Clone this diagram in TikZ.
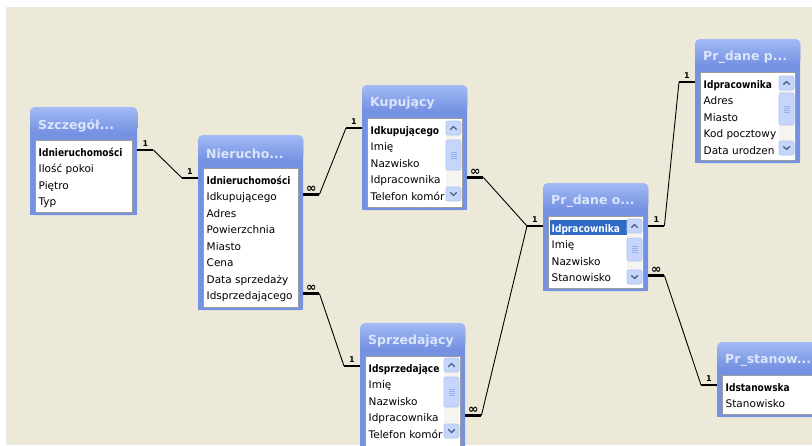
\documentclass[tikz,border=0pt]{standalone}
\usepackage{fontspec}
\setmainfont{DejaVu Sans}
\newfontfamily\rowcond[FakeStretch=0.86]{DejaVu Sans}
\usetikzlibrary{calc}
\definecolor{beige}{HTML}{ECE9D8}
\definecolor{xpbody}{HTML}{7591E2}
\definecolor{xptop}{HTML}{A2BAF5}
\definecolor{xptitle}{HTML}{DCE6FA}
\definecolor{listborder}{HTML}{9C9C9C}
\definecolor{sbbtn}{HTML}{C6D5FB}
\definecolor{sbedge}{HTML}{AFC3F2}
\definecolor{sbgrip}{HTML}{96AEEC}
\definecolor{sbarrow}{HTML}{4D6185}
\definecolor{sbtrack}{HTML}{F5F4EF}
\definecolor{selblue}{HTML}{316AC5}
\tikzset{
 tblframe/.style={fill=xpbody, rounded corners=5pt, inner sep=0, anchor=north west},
 titletxt/.style={anchor=west, inner sep=0, text=xptitle, font=\fontsize{12.5}{14}\selectfont\bfseries},
 listbox/.style={fill=white, draw=listborder, line width=0.9pt, inner sep=0, anchor=north west},
 rowtxt/.style={anchor=base west, inner sep=0, font=\fontsize{10.5}{12}\selectfont},
 keytxt/.style={anchor=base west, inner sep=0, font=\fontsize{10.5}{12}\selectfont\rowcond\bfseries},
 stub/.style={line width=2.8pt},
 link/.style={line width=0.9pt},
 relone/.style={font=\fontsize{8}{9}\selectfont\bfseries, inner sep=0pt, above=1.8pt},
 relmany/.style={font=\fontsize{12.5}{12}\selectfont\bfseries, inner sep=0pt, above=1pt},
 sbbutton/.style={fill=sbbtn, draw=sbedge, line width=0.6pt, rounded corners=2pt},
 chev/.style={draw=sbarrow, line width=1.4pt, line cap=round, line join=round},
}
% box: name, x, y, width, height, title
\newcommand\xpbox[6]{%
 \node[tblframe, minimum width=#4pt, minimum height=#5pt] (#1) at (#2,#3) {};
 \fill[xpbody] ($(#1.south west)+(0,-8)$) rectangle (#1.south east);
 \shade[top color=xptop, bottom color=xpbody, rounded corners=5pt] (#1.north west) rectangle ($(#1.north east)+(0,26)$);
 \node[titletxt] (#1-t) at ($(#1.north west)+(8,18.5)$) {#6};
 \node[listbox, minimum width={#4pt-10pt}, minimum height={#5pt-36pt}] (#1-l) at ($(#1.north west)+(5,33)$) {};
}
% rows: box name, items, right clip margin, extra key style
\newcommand\xprows[4]{%
 \begin{scope}
 \clip ($(#1-l.north west)+(1,1)$) rectangle ($(#1-l.south east)+(-#3,-1)$);
 \foreach \rowitem [count=\ri] in {#2}{%
   \ifnum\ri=1\relax
     \node[keytxt,#4] (#1-r\ri) at ($(#1-l.north west)+(3.5,16)$) {\rowitem};
   \else
     \node[rowtxt] (#1-r\ri) at ($(#1-l.north west)+(3.5,{16+16.5*(\ri-1)})$) {\rowitem};
   \fi}
 \end{scope}}
% scrollbar: x, up top, thumb top, thumb bottom, down top
\newcommand\xpscroll[5]{%
 \fill[sbtrack] (#1,#2) rectangle (#1+15,#5+14);
 \draw[sbbutton] (#1,#2) rectangle (#1+15,#2+14);
 \draw[chev] (#1+4.5,#2+8.5) -- (#1+7.5,#2+5.5) -- (#1+10.5,#2+8.5);
 \draw[sbbutton] (#1,#3) rectangle (#1+15,#4);
 \foreach \gk in {-3,-1,1,3} \draw[draw=sbgrip, line width=0.6pt] (#1+4.5,{(#3+#4)/2+\gk}) -- (#1+10.5,{(#3+#4)/2+\gk});
 \draw[sbbutton] (#1,#5) rectangle (#1+15,#5+14);
 \draw[chev] (#1+4.5,#5+5.5) -- (#1+7.5,#5+8.5) -- (#1+10.5,#5+5.5);
}
\newcommand\relstub[4]{\draw[stub] (#1) -- node[#3]{#4} ++(#2,0) coordinate (#1s);}
\begin{document}
\begin{tikzpicture}[x=1pt,y=-1pt]
\useasboundingbox (0,0) rectangle (812,445);
\fill[white] (0,0) rectangle (812,445);
\fill[beige] (6,7) rectangle (812,445);

\xpbox{szcz}{30}{107}{107}{108}{Szczegół...}
\xprows{szcz}{Idnieruchomości,Ilość pokoi,Piętro,Typ}{2}{}

\xpbox{nier}{198}{135}{105}{175}{Nierucho...}
\xprows{nier}{Idnieruchomości,Idkupującego,Adres,Powierzchnia,Miasto,Cena,Data sprzedaży,Idsprzedającego}{2}{}

\xpbox{kup}{362}{85}{105}{125}{Kupujący}
\xprows{kup}{Idkupującego,Imię,Nazwisko,Idpracownika,Telefon komór}{17}{}
\xpscroll{446}{121}{140}{170}{187}

\xpbox{sprz}{360}{323}{105}{130}{Sprzedający}
\xprows{sprz}{Idsprzedające,Imię,Nazwisko,Idpracownika,Telefon komór}{17}{}
\xpscroll{444}{358}{377}{407}{424}

\xpbox{pro}{543}{183}{105}{108}{Pr\_dane o...}
\fill[selblue] ($(pro-l.north west)+(1.5,3.5)$) rectangle ($(pro-l.north west)+(82,19)$);
\xprows{pro}{Idpracownika,Imię,Nazwisko,Stanowisko}{17}{text=white}
\xpscroll{627}{219}{238}{261}{270}

\xpbox{prp}{695}{39}{105}{124}{Pr\_dane p...}
\xprows{prp}{Idpracownika,Adres,Miasto,Kod pocztowy,Data urodzen}{17}{}
\xpscroll{779}{76}{93}{125}{141}

\xpbox{prs}{717}{342}{120}{75}{Pr\_stanow...}
\xprows{prs}{Idstanowska,Stanowisko}{2}{}

\coordinate (A1) at ($(szcz.east |- szcz-r1.base)+(0,-6)$);
\coordinate (A2) at ($(nier.west |- nier-r1.base)+(0,-6)$);
\coordinate (B1) at ($(nier.east |- nier-r2.base)+(0,-6)$);
\coordinate (B2) at ($(kup.west |- kup-r1.base)+(0,-6)$);
\coordinate (C1) at ($(nier.east |- nier-r8.base)+(0,-6)$);
\coordinate (C2) at ($(sprz.west |- sprz-r1.base)+(0,-6)$);
\coordinate (D1) at ($(kup.east |- kup-r4.base)+(0,-6)$);
\coordinate (E1) at ($(sprz.east |- sprz-r4.base)+(0,-6)$);
\coordinate (D2) at ($(pro.west |- pro-r1.base)+(0,-6)$);
\coordinate (F1) at ($(pro.east |- pro-r1.base)+(0,-6)$);
\coordinate (F2) at ($(prp.west |- prp-r1.base)+(0,-6)$);
\coordinate (G1) at ($(pro.east |- pro-r4.base)+(0,-6)$);
\coordinate (G2) at ($(prs.west |- prs-r1.base)+(0,-6)$);

\relstub{A1}{16}{relone}{1}
\relstub{A2}{-16}{relone}{1}
\relstub{B1}{16}{relmany}{∞}
\relstub{B2}{-16}{relone}{1}
\relstub{C1}{16}{relmany}{∞}
\relstub{C2}{-16}{relone}{1}
\relstub{D1}{16}{relmany}{∞}
\relstub{E1}{16}{relmany}{∞}
\relstub{D2}{-16}{relone}{1}
\relstub{F1}{16}{relone}{1}
\relstub{F2}{-16}{relone}{1}
\relstub{G1}{16}{relmany}{∞}
\relstub{G2}{-16}{relone}{1}

\draw[link] (A1s) -- (A2s);
\draw[link] (B1s) -- (B2s);
\draw[link] (C1s) -- (C2s);
\draw[link] (D1s) -- (D2s);
\draw[link] (E1s) -- (D2s);
\draw[link] (F1s) -- (F2s);
\draw[link] (G1s) -- (G2s);
\end{tikzpicture}
\end{document}
